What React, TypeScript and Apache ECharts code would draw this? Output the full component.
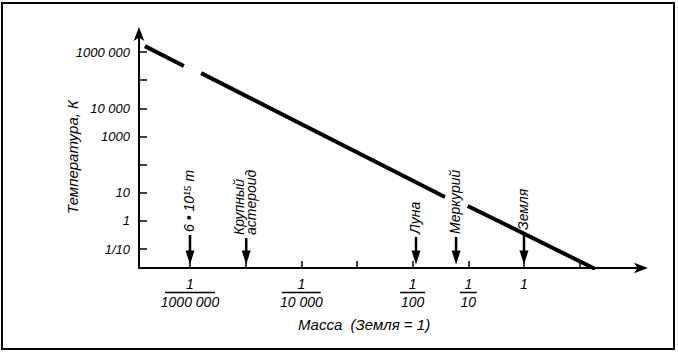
import React, { useEffect, useRef } from 'react';
import * as echarts from 'echarts';

// Axis ticks / labels (log10 of the plotted quantity)
const massTickLog10 = [-6, -5, -4, -3, -2, -1, 0, 1];
const massLabelLog10 = [-6, -4, -2, -1, 0];
const massLabelDenominators = ['1000 000', '10 000', '100', '10', ''];
const tempTickLog10 = [-1, 0, 1, 2, 3, 4, 5, 6];
const tempLabelLog10 = [-1, 0, 1, 3, 4, 6];
const tempLabels = ['1/10', '1', '10', '1000', '10 000', '1000 000'];

// Black-hole temperature line, drawn in three pieces: [log10 mass, log10 T]
const segment1 = [[-6.81, 6.21], [-6.11, 5.5]];
const segment2 = [[-5.8, 5.25], [-1.42, 0.85]];
const segment3 = [[-1.01, 0.53], [1.28, -1.71]];

// Marked masses
const markerNames = ['6 • 10¹⁵ т', 'Крупный\nастероид', 'Луна', 'Меркурий', 'Земля'];
const markerMassLog10 = [-6, -4.99, -1.94, -1.22, 0];
const markerArrowTopLog10T = [-0.5, -0.61, -0.57, -0.57, -0.43];
const markerArrowBottomLog10T = [-1.55, -1.55, -1.55, -1.55, -1.55];

const FONT = "'Liberation Sans Narrow', 'Liberation Sans', Arial, sans-serif";

export default function App() {
  const ref = useRef<HTMLDivElement>(null);
  useEffect(() => {
    document.body.style.margin = '0';
    const chart = echarts.init(ref.current!, null, { renderer: 'svg' });
    const barWidths = [50, 39, 25, 17];
    const rich: any = {
      n: { fontSize: 14, lineHeight: 15, fontStyle: 'italic', fontFamily: FONT, color: '#000', align: 'center' },
      d: { fontSize: 14, lineHeight: 15, fontStyle: 'italic', fontFamily: FONT, color: '#000', align: 'center' },
    };
    barWidths.forEach((w, i) => {
      rich['b' + i] = { width: w, height: 1.5, lineHeight: 3, fontSize: 1, backgroundColor: '#000', align: 'center' };
    });
    const lineSeries = [segment1, segment2, segment3].map((seg) => ({
      type: 'line',
      data: seg,
      symbol: 'none',
      lineStyle: { color: '#000', width: 4, cap: 'butt' },
      silent: true,
    }));
    chart.setOption({
      animation: false,
      grid: { left: 139, right: 36, top: 33, bottom: 84 },
      xAxis: {
        type: 'value',
        min: -6.916,
        max: 2.12,
        axisLine: { show: true, onZero: false, lineStyle: { color: '#000', width: 2 }, symbol: ['none', 'arrow'], symbolSize: [8, 14], symbolOffset: [0, 6] },
        axisTick: { show: true, inside: true, length: 7, lineStyle: { color: '#000', width: 1.5 }, customValues: massTickLog10 },
        splitLine: { show: false },
        axisLabel: {
          margin: 8,
          customValues: massLabelLog10,
          formatter: (v: number) => {
            const i = massLabelLog10.indexOf(Math.round(v));
            const den = massLabelDenominators[i];
            if (!den) return '{n|1}';
            return `{n|1}\n{b${i}| }\n{d|${den}}`;
          },
          rich,
        },
      },
      yAxis: {
        type: 'value',
        min: -1.675,
        max: 6.676,
        axisLine: { show: true, onZero: false, lineStyle: { color: '#000', width: 2 }, symbol: ['none', 'arrow'], symbolSize: [8, 14], symbolOffset: [0, 6] },
        axisTick: { show: true, inside: true, length: 8, lineStyle: { color: '#000', width: 1.5 }, customValues: tempTickLog10 },
        splitLine: { show: false },
        axisLabel: {
          margin: 9,
          customValues: tempLabelLog10,
          formatter: (v: number) => tempLabels[tempLabelLog10.indexOf(Math.round(v))] ?? '',
          fontSize: 13,
          fontStyle: 'italic',
          fontFamily: FONT,
          color: '#000',
        },
      },
      series: [
        ...lineSeries,
        {
          type: 'custom',
          coordinateSystem: 'cartesian2d',
          clip: false,
          silent: true,
          data: markerMassLog10.map((m, i) => [m, markerArrowTopLog10T[i], markerArrowBottomLog10T[i]]),
          encode: { x: 0, y: [1, 2] },
          renderItem: (params: any, api: any) => {
            const idx = params.dataIndex;
            const x = api.value(0);
            const p1 = api.coord([x, api.value(1)]);
            const p2 = api.coord([x, api.value(2)]);
            const headLen = 14;
            const headW = 4.5;
            return {
              type: 'group',
              children: [
                {
                  type: 'line',
                  shape: { x1: p1[0], y1: p1[1], x2: p2[0], y2: p2[1] - headLen + 2 },
                  style: { stroke: '#000', lineWidth: 2.5 },
                },
                {
                  type: 'polygon',
                  shape: { points: [[p2[0] - headW, p2[1] - headLen], [p2[0] + headW, p2[1] - headLen], [p2[0], p2[1]]] },
                  style: { fill: '#000' },
                },
                {
                  type: 'text',
                  x: p1[0] - 1,
                  y: p1[1] - 3,
                  rotation: Math.PI / 2,
                  style: {
                    text: markerNames[idx],
                    align: 'left',
                    verticalAlign: 'middle',
                    fontSize: 14,
                    lineHeight: 12,
                    fontStyle: 'italic',
                    fontFamily: FONT,
                    fill: '#000',
                  },
                },
              ],
            };
          },
        },
      ],
      graphic: [
        {
          type: 'rect',
          shape: { x: 2, y: 3, width: 672, height: 346 },
          style: { fill: 'none', stroke: '#000', lineWidth: 2 },
          silent: true,
        },
        {
          type: 'text',
          x: 72,
          y: 157,
          rotation: Math.PI / 2,
          style: {
            text: 'Температура, К',
            align: 'center',
            verticalAlign: 'middle',
            fontSize: 15,
            fontStyle: 'italic',
            fontFamily: FONT,
            fill: '#000',
          },
        },
        {
          type: 'text',
          x: 364,
          y: 324,
          style: {
            text: 'Масса  (Земля = 1)',
            align: 'center',
            verticalAlign: 'middle',
            fontSize: 15,
            fontStyle: 'italic',
            fontFamily: FONT,
            fill: '#000',
          },
        },
      ],
    });
    return () => chart.dispose();
  }, []);
  return <div ref={ref} style={{ width: 678, height: 352 }} />;
}
